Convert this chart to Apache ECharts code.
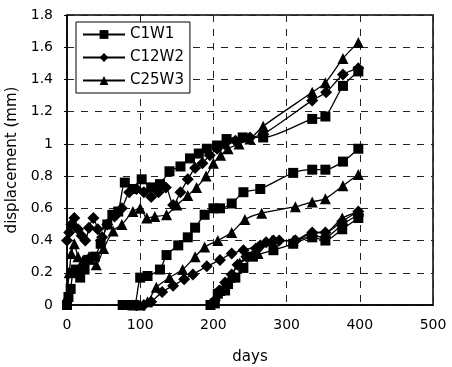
<!DOCTYPE html>
<html>
<head>
<meta charset="utf-8">
<script src="https://cdn.jsdelivr.net/npm/echarts@6/dist/echarts.min.js"></script>
<style>
  html, body { margin: 0; padding: 0; background: #fff; }
  #chart { width: 452px; height: 367px; }
</style>
</head>
<body>
<div id="chart"></div>
<script>
// 每个试件三段曲线（第0天、约第100天、约第200天开始）
const seriesNames = ['C1W1', 'C12W2', 'C25W3'];
const xTicks = [0, 100, 200, 300, 400, 500];

// C1W1 (square)
const c1w1Seg1 = [[0,0],[2,0.05],[5,0.1],[8,0.2],[12,0.22],[18,0.17],[24,0.22],[30,0.28],[38,0.3],[46,0.38],[55,0.5],[62,0.56],[70,0.58],[79,0.76],[90,0.72],[102,0.78],[115,0.73],[127,0.75],[140,0.83],[155,0.86],[168,0.91],[180,0.94],[191,0.97],[205,0.99],[218,1.03],[240,1.04],[268,1.04],[335,1.155],[353,1.17],[377,1.36],[398,1.45]];
const c1w1Seg2 = [[76,0],[84,0],[92,0],[100,0.17],[110,0.18],[127,0.22],[136,0.31],[152,0.37],[165,0.42],[175,0.48],[188,0.56],[200,0.6],[209,0.6],[225,0.63],[241,0.7],[264,0.72],[309,0.82],[335,0.84],[353,0.84],[377,0.89],[398,0.97]];
const c1w1Seg3 = [[196,0],[202,0.01],[206,0.07],[216,0.09],[220,0.13],[230,0.17],[241,0.23],[254,0.3],[282,0.34],[309,0.38],[335,0.42],[353,0.4],[376,0.47],[398,0.54]];

// C12W2 (diamond)
const c12w2Seg1 = [[0,0.4],[3,0.45],[6,0.5],[10,0.54],[15,0.47],[20,0.43],[25,0.4],[30,0.48],[36,0.54],[42,0.47],[48,0.42],[55,0.5],[65,0.55],[75,0.6],[85,0.7],[95,0.72],[105,0.7],[115,0.67],[125,0.7],[135,0.73],[145,0.62],[155,0.7],[165,0.78],[175,0.85],[185,0.88],[195,0.93],[205,0.97],[215,1.0],[230,1.02],[250,1.04],[268,1.06],[335,1.27],[354,1.32],[377,1.43],[398,1.47]];
const c12w2Seg2 = [[95,0],[105,0],[115,0.02],[130,0.08],[145,0.12],[160,0.16],[172,0.19],[191,0.24],[209,0.28],[225,0.32],[241,0.34],[264,0.37],[282,0.4],[312,0.4],[335,0.45],[353,0.45],[376,0.52],[398,0.58]];
const c12w2Seg3 = [[202,0.03],[208,0.09],[216,0.14],[225,0.19],[233,0.25],[245,0.3],[258,0.35],[272,0.39],[290,0.4],[312,0.4],[335,0.43],[353,0.42],[376,0.5],[398,0.56]];

// C25W3 (triangle)
const c25w3Seg1 = [[0,0.05],[3,0.2],[6,0.32],[10,0.38],[15,0.3],[22,0.28],[30,0.3],[40,0.25],[50,0.35],[63,0.46],[75,0.5],[90,0.58],[100,0.6],[109,0.54],[120,0.55],[136,0.56],[150,0.62],[165,0.68],[177,0.73],[190,0.8],[200,0.88],[210,0.93],[220,0.97],[235,1.0],[250,1.03],[268,1.11],[335,1.32],[353,1.38],[377,1.53],[398,1.63]];
const c25w3Seg2 = [[90,0],[100,0],[110,0.02],[122,0.11],[140,0.17],[158,0.22],[175,0.3],[188,0.36],[206,0.4],[225,0.45],[243,0.53],[266,0.57],[312,0.61],[335,0.64],[353,0.66],[377,0.74],[398,0.81]];
const c25w3Seg3 = [[209,0.09],[223,0.17],[236,0.26],[261,0.32],[280,0.4],[309,0.4],[335,0.45],[353,0.45],[376,0.54],[398,0.58]];

const segments = {
  C1W1: [c1w1Seg1, c1w1Seg2, c1w1Seg3],
  C12W2: [c12w2Seg1, c12w2Seg2, c12w2Seg3],
  C25W3: [c25w3Seg1, c25w3Seg2, c25w3Seg3]
};
const symbols = { C1W1: 'rect', C12W2: 'diamond', C25W3: 'triangle' };
const symbolSizes = { C1W1: 10, C12W2: 12, C25W3: 11 };

const chart = echarts.init(document.getElementById('chart'));

const series = [];
seriesNames.forEach(name => {
  segments[name].forEach(seg => {
    series.push({
      name: name,
      type: 'line',
      data: seg,
      symbol: symbols[name],
      symbolSize: symbolSizes[name],
      smooth: 0.25,
      showAllSymbol: true,
      lineStyle: { color: '#000', width: 1.3 },
      itemStyle: { color: '#000', borderWidth: 0 },
      emphasis: { disabled: true },
      animation: false
    });
  });
});

const font = 'DejaVu Sans, Liberation Sans, sans-serif';

const option = {
  backgroundColor: '#fff',
  animation: false,
  grid: {
    left: 67, right: 19, top: 15, bottom: 62,
    outerBoundsMode: 'none',
    show: true, borderColor: '#000', borderWidth: 1.5
  },
  legend: {
    data: seriesNames,
    orient: 'vertical',
    left: 76,
    top: 22,
    itemWidth: 42,
    itemHeight: 11,
    itemGap: 8,
    padding: [5, 6, 5, 6],
    borderColor: '#000',
    borderWidth: 1,
    backgroundColor: '#fff',
    textStyle: { fontFamily: font, fontSize: 15, color: '#000' }
  },
  xAxis: {
    type: 'value',
    min: 0, max: 500, interval: 100,
    name: 'days',
    nameLocation: 'middle',
    nameGap: 45,
    nameTextStyle: { fontFamily: font, fontSize: 15, color: '#000' },
    axisLine: { show: true, lineStyle: { color: '#000', width: 1.5 } },
    axisTick: { show: false },
    axisLabel: { fontFamily: font, fontSize: 14, color: '#000', margin: 13 },
    splitLine: { show: true, lineStyle: { color: '#222', type: [7, 7], width: 1 } }
  },
  yAxis: {
    type: 'value',
    min: 0, max: 1.8, interval: 0.2,
    name: 'displacement (mm)',
    nameLocation: 'middle',
    nameGap: 40,
    nameTextStyle: { fontFamily: font, fontSize: 15, color: '#000' },
    axisLine: { show: true, lineStyle: { color: '#000', width: 1.5 } },
    axisTick: { show: true, length: 3, lineStyle: { color: '#000' } },
    axisLabel: { fontFamily: font, fontSize: 14, color: '#000', margin: 14 },
    splitLine: { show: true, lineStyle: { color: '#222', type: [7, 7], width: 1 } }
  },
  series: series
};

chart.setOption(option);
</script>
</body>
</html>
